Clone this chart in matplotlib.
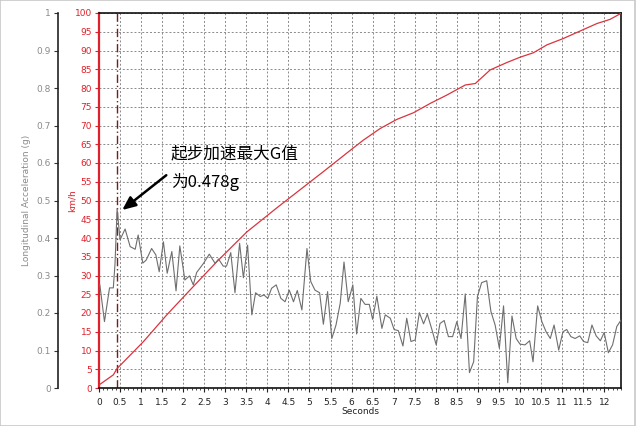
import numpy as np
import matplotlib.pyplot as plt
from matplotlib.patches import Rectangle

plt.rcParams['font.family'] = ['DejaVu Sans']

# Longitudinal acceleration (g) vs time (s)
acc_t = [0.02, 0.13, 0.25, 0.34, 0.38, 0.43, 0.50, 0.62, 0.74, 0.86, 0.93, 1.04,
         1.12, 1.25, 1.35, 1.43, 1.53, 1.62, 1.73, 1.83, 1.92, 2.04, 2.15, 2.24,
         2.32, 2.48, 2.62, 2.76, 2.84, 2.95, 3.03, 3.13, 3.23, 3.34, 3.43, 3.53,
         3.63, 3.72, 3.83, 3.92, 4.01, 4.10, 4.21, 4.32, 4.42, 4.52, 4.62, 4.71,
         4.82, 4.94, 5.03, 5.13, 5.24, 5.33, 5.43, 5.53, 5.63, 5.73, 5.82, 5.92,
         6.03, 6.12, 6.22, 6.32, 6.42, 6.50, 6.60, 6.72, 6.80, 6.92, 7.01, 7.11,
         7.22, 7.31, 7.41, 7.51, 7.61, 7.71, 7.80, 7.91, 8.01, 8.10, 8.20, 8.30,
         8.40, 8.50, 8.60, 8.70, 8.80, 8.90, 8.99, 9.09, 9.21, 9.31, 9.41, 9.51,
         9.61, 9.71, 9.81, 9.91, 10.00, 10.12, 10.23, 10.31, 10.42, 10.52, 10.62,
         10.72, 10.81, 10.92, 11.02, 11.11, 11.21, 11.31, 11.42, 11.51, 11.61,
         11.71, 11.81, 11.91, 12.00, 12.10, 12.20, 12.30, 12.40]
acc_g = [0.275, 0.177, 0.267, 0.267, 0.33, 0.478, 0.395, 0.424, 0.377, 0.370, 0.408, 0.333,
         0.341, 0.372, 0.355, 0.310, 0.390, 0.306, 0.364, 0.259, 0.379, 0.288, 0.299, 0.275,
         0.308, 0.332, 0.357, 0.332, 0.344, 0.325, 0.325, 0.361, 0.254, 0.386, 0.294, 0.381,
         0.195, 0.254, 0.244, 0.248, 0.239, 0.266, 0.275, 0.239, 0.230, 0.261, 0.230, 0.260,
         0.208, 0.372, 0.284, 0.261, 0.254, 0.170, 0.257, 0.132, 0.168, 0.226, 0.336, 0.230,
         0.275, 0.144, 0.239, 0.223, 0.223, 0.183, 0.245, 0.159, 0.195, 0.186, 0.156, 0.153,
         0.112, 0.186, 0.124, 0.128, 0.201, 0.171, 0.197, 0.155, 0.115, 0.172, 0.180, 0.137,
         0.137, 0.177, 0.132, 0.251, 0.041, 0.070, 0.244, 0.281, 0.286, 0.204, 0.168, 0.106,
         0.219, 0.014, 0.192, 0.132, 0.117, 0.115, 0.126, 0.070, 0.219, 0.177, 0.150,
         0.132, 0.168, 0.101, 0.150, 0.156, 0.137, 0.132, 0.139, 0.124, 0.121,
         0.168, 0.139, 0.126, 0.148, 0.094, 0.115, 0.164, 0.181]

# Vehicle speed (km/h) vs time (s)
spd_t = [0.0, 0.34, 0.43, 1.05, 1.61, 2.16, 2.80, 3.51, 4.22, 4.94, 5.33, 5.96,
         6.28, 6.68, 7.07, 7.47, 7.87, 8.26, 8.70, 8.94, 9.29, 9.69, 10.00, 10.32,
         10.64, 11.03, 11.43, 11.83, 12.14, 12.40]
spd_kmh = [0.8, 3.5, 5.2, 12.3, 19.5, 26.1, 33.7, 41.6, 48.0, 54.3, 57.7, 63.3,
           66.1, 69.2, 71.6, 73.4, 75.9, 78.1, 80.8, 81.2, 84.8, 86.8, 88.2, 89.4,
           91.5, 93.2, 95.2, 97.2, 98.3, 99.9]

peak_t = 0.43
xticks = np.arange(0, 12.01, 0.5)
kmh_ticks = np.arange(0, 101, 5)
g_ticks = np.arange(0, 1.01, 0.1)

red = '#e0202a'
fig = plt.figure(figsize=(6.4, 4.26), dpi=100)
fig.patches.append(Rectangle((0, 0.0), 635 / 640, 1, transform=fig.transFigure,
                             fill=False, edgecolor='#c8c8c8', linewidth=1.2))
ax = fig.add_axes([99 / 640, 38 / 426, 522 / 640, 375 / 426])

ax.plot(spd_t, spd_kmh, color='#d9343e', linewidth=0.9, zorder=3)
ax.set_xlim(0, 12.4)
ax.set_ylim(0, 100)
ax.set_xticks(xticks)
ax.set_xticklabels(['%g' % v for v in xticks])
ax.set_xticks(np.arange(0, 12.41, 0.1), minor=True)
ax.set_yticks(kmh_ticks)
ax.tick_params(axis='x', labelsize=6.5, colors='#222222', length=3, width=0.8, pad=4)
ax.tick_params(axis='x', which='minor', length=1.5, width=0.5)
ax.tick_params(axis='y', labelsize=6.5, colors=red, length=3, width=0.8, pad=2)
ax.grid(True, color='#8a8a8a', linestyle=(0, (2, 2)), linewidth=0.7)
ax.set_axisbelow(True)
ax.spines['left'].set_color(red)
ax.spines['left'].set_linewidth(1.6)
for s in ['top', 'right', 'bottom']:
    ax.spines[s].set_color('#111111')
    ax.spines[s].set_linewidth(1.2)
ax.set_xlabel('Seconds', fontsize=6.5, color='#222222', labelpad=0)
ax.set_ylabel('km/h', fontsize=6.5, color=red)
ax.yaxis.set_label_coords(-22 / 522, 0.5)
ax.axvline(peak_t, color='#7a1c1c', linestyle=(0, (6, 2, 1, 2)), linewidth=1.0, zorder=2)

# g axis on far left
axg = ax.twinx()
axg.spines['left'].set_visible(True)
axg.spines['left'].set_position(('axes', -41 / 522))
axg.spines['left'].set_color('#222222')
axg.spines['left'].set_linewidth(1.2)
axg.spines['right'].set_visible(False)
axg.spines['top'].set_visible(False)
axg.spines['bottom'].set_visible(False)
axg.yaxis.set_label_position('left')
axg.yaxis.set_ticks_position('left')
axg.set_ylim(0, 1)
axg.set_yticks(g_ticks)
axg.set_yticklabels(['0'] + ['%.1f' % v for v in g_ticks[1:-1]] + ['1'])
axg.tick_params(axis='y', labelsize=6.5, colors='#333333', labelcolor='#8a8a8a',
                length=3, width=0.8, pad=2)
axg.set_ylabel('Longitudinal Acceleration (g)', fontsize=6.5, color='#8a8a8a')
axg.yaxis.set_label_coords(-68 / 522, 0.5)
axg.plot(acc_t, acc_g, color='#6e6e6e', linewidth=0.8, zorder=4)

axg.annotate('', xy=(0.50, 0.47), xytext=(1.65, 0.572),
             arrowprops=dict(arrowstyle='-|>,head_length=0.8,head_width=0.35',
                             color='black', linewidth=1.8))
axg.text(1.71, 0.623, '起步加速最大G值', fontsize=12, va='center', ha='left',
         family=['Noto Sans CJK SC', 'DejaVu Sans'])
axg.text(1.71, 0.549, '为0.478g', fontsize=12, va='center', ha='left',
         family=['Noto Sans CJK SC', 'DejaVu Sans'])

fig.savefig('out.png', dpi=100)
